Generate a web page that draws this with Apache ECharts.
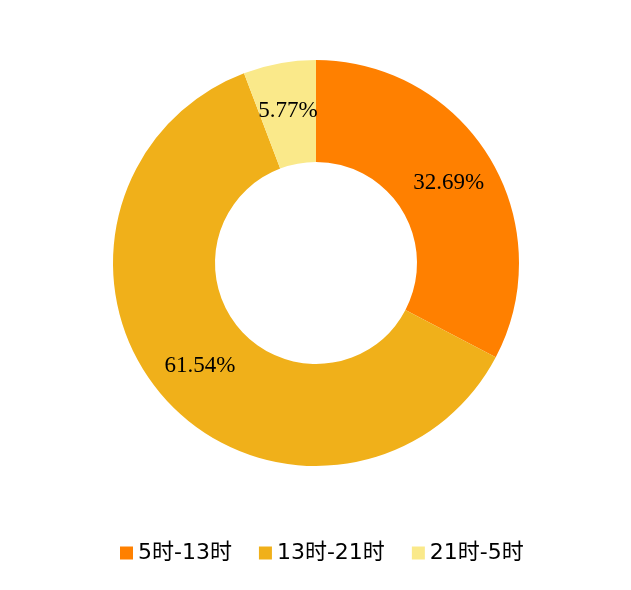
<!DOCTYPE html>
<html><head><meta charset="utf-8">
<script src="https://cdn.jsdelivr.net/npm/echarts@6/dist/echarts.min.js"></script>
<style>html,body{margin:0;padding:0;background:#fff}#c{width:631px;height:590px}</style>
</head><body><div id="c"></div>
<script>
const categories = ['5时-13时', '13时-21时', '21时-5时'];
const values = [17, 32, 3];
const colors = ['#FF8000', '#F0B01A', '#FAE98A'];

const chart = echarts.init(document.getElementById('c'));
chart.setOption({
  animation: false,
  color: colors,
  legend: {
    top: 537,
    left: 115,
    itemWidth: 13,
    itemHeight: 13,
    itemGap: 27,
    icon: 'rect',
    textStyle: { fontSize: 22, color: '#000', fontFamily: '"DejaVu Sans", "Noto Sans CJK SC"' },
    data: categories
  },
  series: [{
    type: 'pie',
    center: [316, 263],
    radius: [101, 203],
    startAngle: 90,
    clockwise: true,
    label: {
      show: true,
      position: 'inside',
      formatter: p => p.percent.toFixed(2) + '%',
      fontFamily: 'Liberation Serif',
      fontSize: 23,
      color: '#000',
      padding: [3, 0, 0, 0]
    },
    labelLine: { show: false },
    emphasis: { disabled: true },
    data: categories.map((n, i) => ({ name: n, value: values[i] }))
  }]
});
</script></body></html>
